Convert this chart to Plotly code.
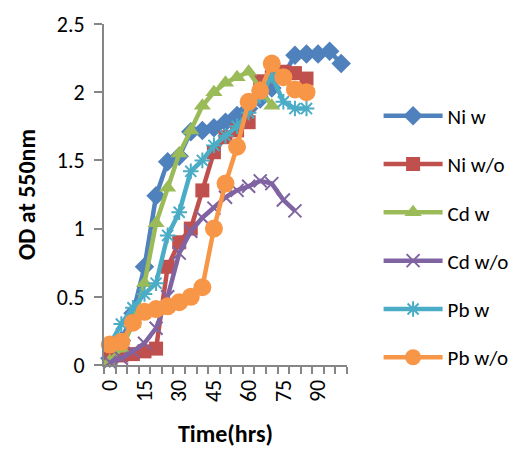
import plotly.graph_objects as go

# Sampling times (hrs) on the category axis
time = list(range(0, 105, 5))
tick_labels = ["0", "15", "30", "45", "60", "75", "90"]

# Optical density readings at 550 nm for each series
ni_w = [0.05, 0.18, 0.38, 0.72, 1.24, 1.49, 1.53, 1.71, 1.72, 1.74, 1.78, 1.83,
        1.88, 1.95, 2.03, 2.12, 2.27, 2.28, 2.28, 2.30, 2.21]
ni_wo = [0.05, 0.07, 0.08, 0.10, 0.12, 0.72, 0.90, 1.00, 1.28, 1.56, 1.67, 1.72,
         1.78, 2.08, 2.11, 2.15, 2.14, 2.10]
cd_w = [0.03, 0.12, 0.30, 0.60, 1.04, 1.30, 1.55, 1.72, 1.90, 2.00, 2.07, 2.11,
        2.15, 2.03, 1.90]
cd_wo = [0.02, 0.05, 0.10, 0.16, 0.27, 0.50, 0.82, 0.98, 1.08, 1.15, 1.23, 1.28,
         1.31, 1.35, 1.33, 1.21, 1.13]
pb_w = [0.15, 0.30, 0.42, 0.52, 0.60, 0.95, 1.12, 1.42, 1.50, 1.61, 1.68, 1.75,
        1.85, 1.97, 2.12, 1.93, 1.88, 1.88]
pb_wo = [0.15, 0.17, 0.31, 0.39, 0.41, 0.43, 0.46, 0.50, 0.57, 1.00, 1.33, 1.60,
         1.93, 2.01, 2.21, 2.11, 2.02, 2.00]

series = [
    ("Ni w", ni_w, "#4F81BD", "diamond", 15, 0),
    ("Ni w/o", ni_wo, "#C0504D", "square", 14, 0),
    ("Cd w", cd_w, "#9BBB59", "triangle-up", 15, 0),
    ("Cd w/o", cd_wo, "#8064A2", "x-thin", 13, 2),
    ("Pb w", pb_w, "#4BACC6", "asterisk-open", 13, 2),
    ("Pb w/o", pb_wo, "#F79646", "circle", 18, 0),
]

fig = go.Figure()
for i, (name, vals, color, symbol, size, lw) in enumerate(series):
    fig.add_trace(go.Scatter(
        x=time[:len(vals)], y=vals, name=name, mode="lines+markers",
        legendgroup=f"g{i}",
        line=dict(color=color, width=4.5),
        marker=dict(symbol=symbol, size=size, color=color,
                    line=dict(color=color, width=lw)),
        cliponaxis=False,
    ))

font_family = "Carlito, Lato, sans-serif"
axis_color = "#868686"

fig.update_layout(
    width=531, height=449,
    margin=dict(l=104, r=184, t=24, b=84),
    paper_bgcolor="white", plot_bgcolor="white",
    font=dict(family=font_family, size=20, color="black"),
    legend=dict(
        x=1.13, xanchor="left", y=0.79, yanchor="top",
        font=dict(size=21, family=font_family),
        traceorder="grouped", tracegroupgap=18,
        itemwidth=59, bgcolor="rgba(0,0,0,0)",
    ),
    showlegend=True,
)

fig.update_xaxes(
    range=[-2.5, 102.5], automargin=False,
    tickmode="array", tickvals=[int(t) for t in tick_labels],
    ticktext=tick_labels, tickangle=-90, ticks="",
    minor=dict(tickmode="linear", tick0=-2.5, dtick=5, ticks="outside",
               ticklen=7, tickcolor=axis_color, tickwidth=1.5),
    showline=True, linecolor=axis_color, linewidth=2,
    showgrid=False, zeroline=False,
    tickfont=dict(size=22), ticklabelstandoff=4,
    title=dict(text="<b>Time(hrs)</b>", font=dict(size=24), standoff=24),
)

fig.update_yaxes(
    range=[0, 2.5], automargin=False,
    tickmode="linear", tick0=0, dtick=0.5,
    ticks="outside", ticklen=8, tickcolor=axis_color, tickwidth=1.5,
    showline=True, linecolor=axis_color, linewidth=2,
    showgrid=False, zeroline=False,
    tickfont=dict(size=22), ticklabelstandoff=5,
    title=dict(text="<b>OD at 550nm</b>", font=dict(size=24), standoff=14),
)

fig.write_html("out.html")
